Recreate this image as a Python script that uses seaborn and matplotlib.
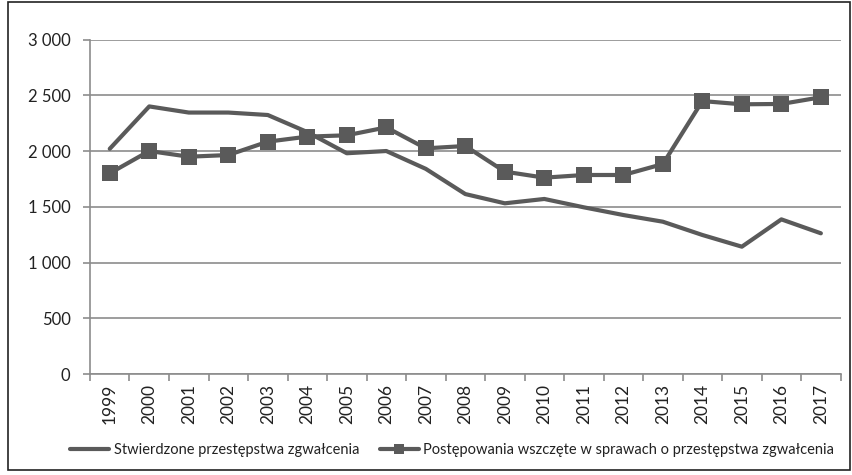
import pandas as pd
import numpy as np
import matplotlib.pyplot as plt
import seaborn as sns
from matplotlib.patches import Rectangle
from matplotlib.ticker import FuncFormatter

years = [str(y) for y in range(1999, 2018)]
stwierdzone = [2020, 2400, 2345, 2345, 2323, 2170, 1980, 2000, 1840, 1614, 1531,
               1570, 1495, 1426, 1366, 1247, 1142, 1387, 1262]
postepowania = [1800, 2000, 1949, 1964, 2084, 2129, 2141, 2212, 2024, 2045, 1815,
                1761, 1785, 1785, 1883, 2448, 2419, 2422, 2482]
label1 = 'Stwierdzone przestępstwa zgwałcenia'
label2 = 'Postępowania wszczęte w sprawach o przestępstwa zgwałcenia'

df = pd.DataFrame({'Rok': years, label1: stwierdzone, label2: postepowania})

sns.set_style('white')
plt.rcParams['font.family'] = ['Lato', 'DejaVu Sans']

grey = '#5a5a5a'
fig = plt.figure(figsize=(8.53, 4.75), dpi=100)
ax = fig.add_axes([0.1055, 0.2126, 0.880, 0.7042])

sns.lineplot(data=df, x='Rok', y=label1, ax=ax, color=grey, linewidth=3, label=label1)
sns.lineplot(data=df, x='Rok', y=label2, ax=ax, color=grey, linewidth=3, marker='s',
             markersize=11, markeredgewidth=0, label=label2)

ax.set_xlim(-0.5, len(years) - 0.5)
ax.set_ylim(0, 3000)
ax.set_yticks(np.arange(0, 3001, 500))
ax.yaxis.set_major_formatter(FuncFormatter(lambda v, p: f'{int(v):,}'.replace(',', ' ')))
ax.grid(axis='y', color='#8c8c8c', linewidth=1.2)
ax.set_axisbelow(True)

# Excel-style ticks between categories
ax.set_xticks(range(len(years)))
ax.set_xticklabels(years, rotation=90)
ax.set_xticks(np.arange(-0.5, len(years), 1), minor=True)
ax.tick_params(axis='x', which='major', length=0, pad=7, labelsize=12.5, colors='#222222')
ax.tick_params(axis='x', which='minor', length=5, width=1.2, color='#8c8c8c', bottom=True)
ax.tick_params(axis='y', length=5, width=1.2, color='#8c8c8c', left=True, labelsize=12,
               labelcolor='#222222', pad=9)

for s in ['top', 'right']:
    ax.spines[s].set_visible(False)
for s in ['left', 'bottom']:
    ax.spines[s].set_color('#8c8c8c')
    ax.spines[s].set_linewidth(1.2)

ax.set_xlabel('')
ax.set_ylabel('')
handles, labels = ax.get_legend_handles_labels()
ax.get_legend().remove()
leg = fig.legend(handles, labels, loc='center', bbox_to_anchor=(0.53, 0.053), ncol=2,
                 frameon=False, fontsize=10.5, handlelength=2.7, columnspacing=1.4,
                 handletextpad=0.3, markerscale=0.6)
for t in leg.get_texts():
    t.set_color('#222222')

fig.patches.append(Rectangle((0.009, 0.01), 0.988, 0.985, transform=fig.transFigure,
                             fill=False, edgecolor='#222222', linewidth=1.2))

fig.savefig('out.png', dpi=100)
